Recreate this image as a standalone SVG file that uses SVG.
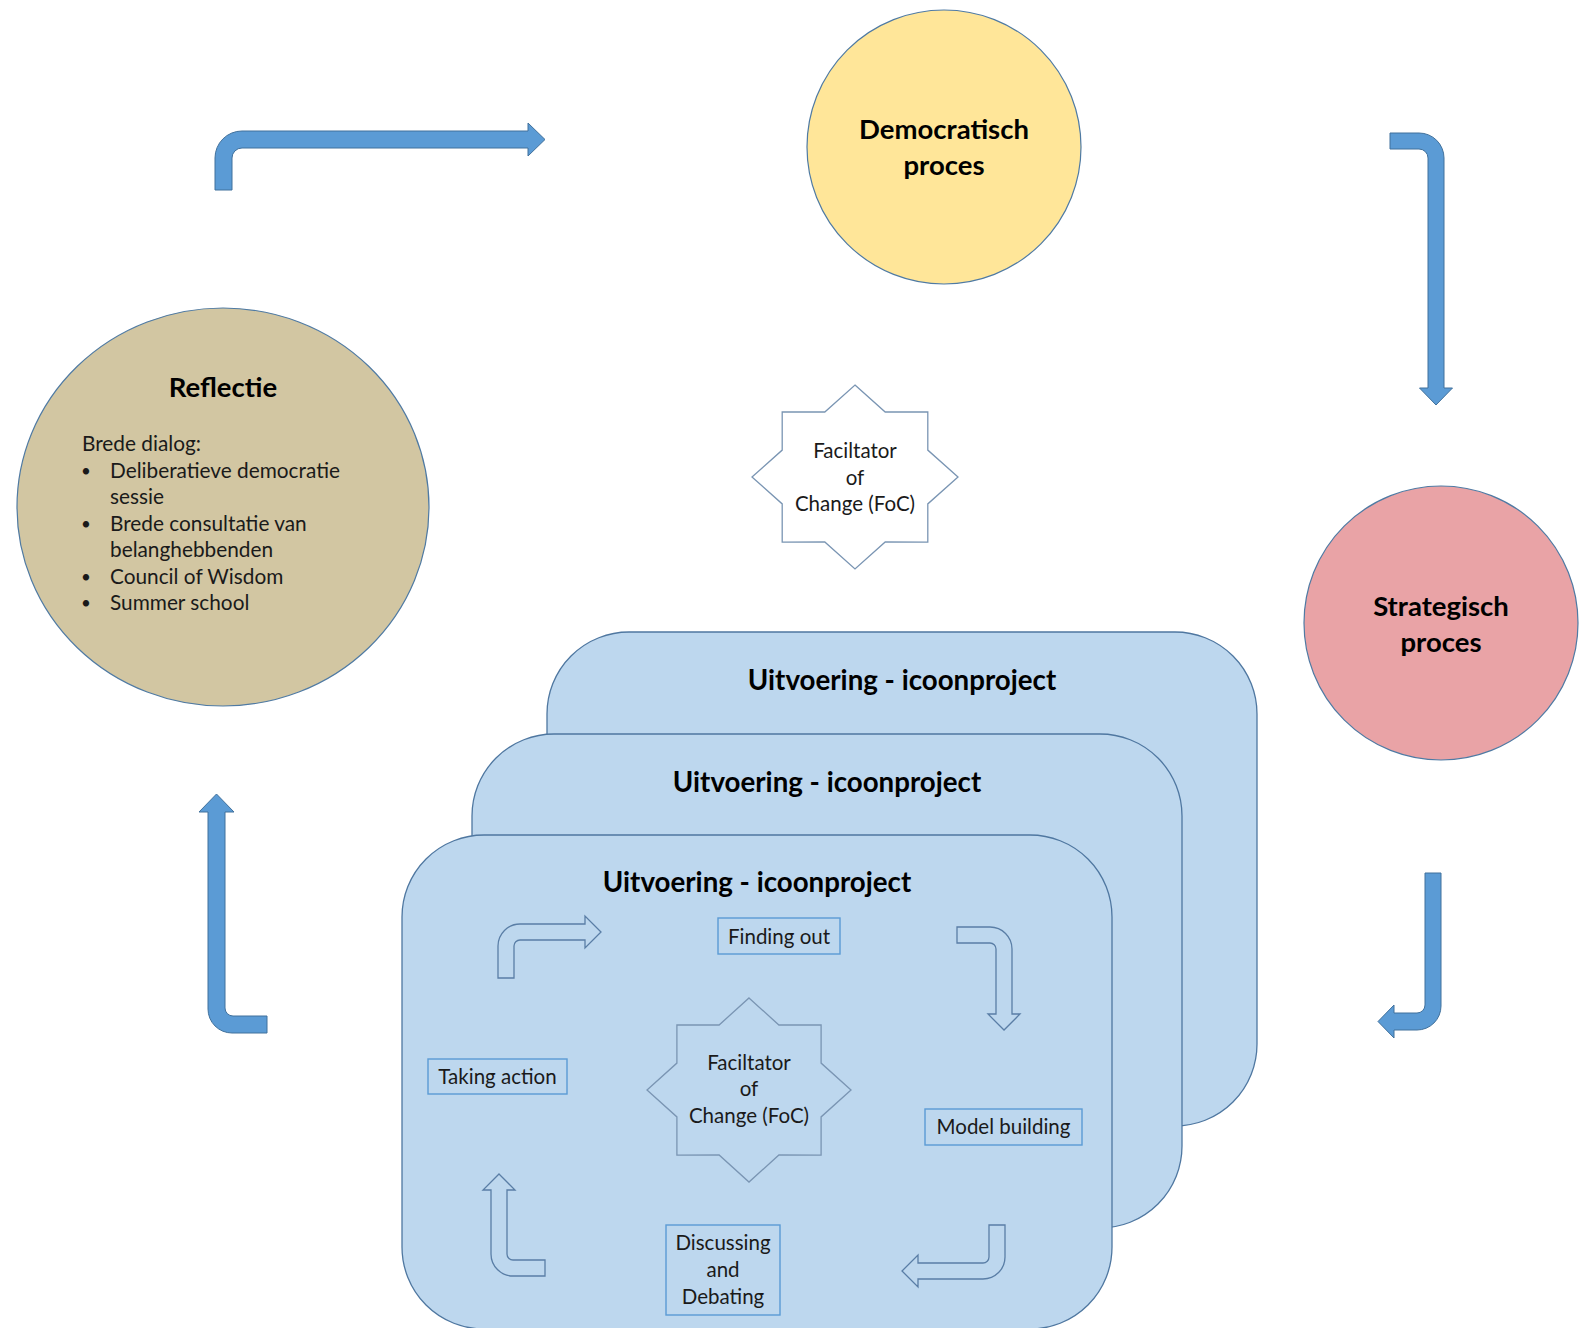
<svg xmlns="http://www.w3.org/2000/svg" width="1581" height="1328" viewBox="0 0 1581 1328">
<style>
.bg{fill:#ffffff}
.circ{stroke:#4f7aa3;stroke-width:1.2}
.big{fill:#5b9bd5;stroke:#41719c;stroke-width:1}
.card{fill:#bdd7ee;stroke:#4f77a0;stroke-width:1.3}
.ol{fill:none;stroke:#5a7ea6;stroke-width:1.3}
.lbl{fill:none;stroke:#5b9bd5;stroke-width:1.4}
.star{stroke:#7a95b3;stroke-width:1.3}
.t{font-family:Lato,"Liberation Sans",sans-serif;fill:#1a1a1a}
.h{font-family:Lato,"Liberation Sans",sans-serif;font-weight:bold;font-size:27.5px;fill:#000;text-anchor:middle}
.ct{font-family:Lato,"Liberation Sans",sans-serif;font-weight:bold;font-size:27.7px;fill:#000;text-anchor:middle}
.b{font-size:20.8px}
.bu{font-size:17px}
.m{font-size:20.5px;text-anchor:middle}
</style>
<rect class="bg" x="0" y="0" width="1581" height="1328"/>

<g id="connectors">
<path class="big" d="M215,190 V158 A27,27 0 0 1 242,131 H528 V123 L545,139.5 L528,156 V148 H242 A10,10 0 0 0 232,158 V190 Z"/>
<path class="big" d="M1390,133 H1419 A25,25 0 0 1 1444,158 V388 H1452.5 L1436,405 L1419.5,388 H1428 V158 A9,9 0 0 0 1419,149 H1390 Z"/>
<path class="big" d="M1425,873 H1441 V1006 A24,24 0 0 1 1417,1030 H1394 V1038 L1378,1021.5 L1394,1005 V1013 H1417 A8,8 0 0 0 1425,1005 Z"/>
<path class="big" d="M216.5,794 L234,812 H225 V1008 A8,8 0 0 0 233,1016 H267 V1033 H232 A24,24 0 0 1 208,1009 V812 H199 Z"/>
</g>

<g id="democratisch">
<circle class="circ" cx="944" cy="147" r="137" fill="#ffe699"/>
<text class="h" x="944" y="139">Democratisch</text>
<text class="h" x="944" y="175">proces</text>
</g>

<g id="strategisch">
<circle class="circ" cx="1441" cy="623" r="137" fill="#e9a3a6"/>
<text class="h" x="1441" y="616">Strategisch</text>
<text class="h" x="1441" y="652">proces</text>
</g>

<g id="reflectie">
<ellipse class="circ" cx="223" cy="507" rx="206" ry="199" fill="#d2c6a2"/>
<text class="h" x="223" y="397">Reflectie</text>
<text class="t b" x="82" y="451">Brede dialog:</text>
<text class="t bu" x="81" y="477">•</text>
<text class="t b" x="110" y="478">Deliberatieve democratie</text>
<text class="t b" x="110" y="504">sessie</text>
<text class="t bu" x="81" y="530">•</text>
<text class="t b" x="110" y="531">Brede consultatie van</text>
<text class="t b" x="110" y="557">belanghebbenden</text>
<text class="t bu" x="81" y="583">•</text>
<text class="t b" x="110" y="584">Council of Wisdom</text>
<text class="t bu" x="81" y="609">•</text>
<text class="t b" x="110" y="610">Summer school</text>
</g>

<g id="foc-top">
<polygon class="star" fill="#ffffff" points="855,385 885.2,412 927.8,411.9 927.8,450.1 958,477 927.8,503.9 927.8,542.1 885.2,542 855,569 824.8,542 782.2,542.1 782.2,503.9 752,477 782.2,450.1 782.2,411.9 824.8,412"/>
<text class="t m" x="855" y="458">Faciltator</text>
<text class="t m" x="855" y="485">of</text>
<text class="t m" x="855" y="511">Change (FoC)</text>
</g>

<g id="card-back">
<rect class="card" x="547" y="632" width="710" height="494" rx="82" ry="82"/>
<text class="ct" x="902" y="690">Uitvoering - icoonproject</text>
</g>

<g id="card-middle">
<rect class="card" x="472" y="734" width="710" height="494" rx="82" ry="82"/>
<text class="ct" x="827" y="792">Uitvoering - icoonproject</text>
</g>

<g id="card-front">
<rect class="card" x="402" y="835" width="710" height="494" rx="82" ry="82"/>
<text class="ct" x="757" y="892">Uitvoering - icoonproject</text>
</g>

<g id="cycle-arrows">
<path class="ol" d="M498,978 V946 A22,22 0 0 1 520,924 H585 V916 L601,932 L585,948 V940 H520 A6,6 0 0 0 514,946 V978 Z"/>
<path class="ol" d="M957,927 H990 A22,22 0 0 1 1012,949 V1014 H1020 L1004,1030 L988,1014 H996 V949 A6,6 0 0 0 990,943 H957 Z"/>
<path class="ol" d="M989,1225 H1005 V1257 A22,22 0 0 1 983,1279 H918 V1287 L902,1271 L918,1255 V1263 H983 A6,6 0 0 0 989,1257 Z"/>
<path class="ol" d="M499,1174 L515,1190 H507 V1254 A6,6 0 0 0 513,1260 H545 V1276 H513 A22,22 0 0 1 491,1254 V1190 H483 Z"/>
</g>

<g id="finding-out">
<rect class="lbl" x="718" y="918" width="122" height="36"/>
<text class="t m" x="779" y="944">Finding out</text>
</g>

<g id="model-building">
<rect class="lbl" x="925" y="1109" width="157" height="36"/>
<text class="t m" x="1003.5" y="1134">Model building</text>
</g>

<g id="taking-action">
<rect class="lbl" x="428" y="1059" width="139" height="35"/>
<text class="t m" x="497.5" y="1084">Taking action</text>
</g>

<g id="discussing">
<rect class="lbl" x="666" y="1225" width="114" height="90"/>
<text class="t m" x="723" y="1250">Discussing</text>
<text class="t m" x="723" y="1277">and</text>
<text class="t m" x="723" y="1304">Debating</text>
</g>

<g id="foc-inner">
<polygon class="star" fill="#bdd7ee" stroke="#5a7ea6" points="749,998 778.9,1025 821.1,1024.9 821.1,1063.1 851,1090 821.1,1116.9 821.1,1155.1 778.9,1155 749,1182 719.1,1155 676.9,1155.1 676.9,1116.9 647,1090 676.9,1063.1 676.9,1024.9 719.1,1025"/>
<text class="t m" x="749" y="1070">Faciltator</text>
<text class="t m" x="749" y="1096">of</text>
<text class="t m" x="749" y="1123">Change (FoC)</text>
</g>
</svg>
